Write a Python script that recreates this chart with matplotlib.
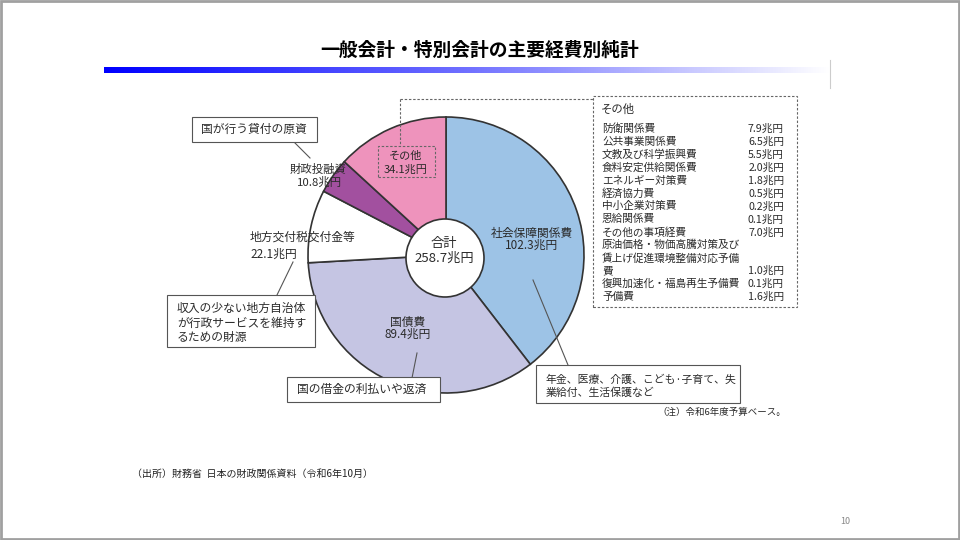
import numpy as np
import matplotlib.pyplot as plt
from matplotlib.patches import Rectangle, Circle
from matplotlib.colors import LinearSegmentedColormap

plt.rcParams['font.family'] = ['Noto Sans CJK JP', 'DejaVu Sans']

# ------------------------------------------------------------
# データ（兆円）
# ------------------------------------------------------------
categories = ['社会保障関係費', '国債費', '地方交付税交付金等', '財政投融資', 'その他']
values = [102.3, 89.4, 22.1, 10.8, 34.1]
colors = ['#9DC3E6', '#C5C5E3', '#FFFFFF', '#A2509F', '#EE93BC']

other_items = ['防衛関係費', '公共事業関係費', '文教及び科学振興費', '食料安定供給関係費',
               'エネルギー対策費', '経済協力費', '中小企業対策費', '恩給関係費',
               'その他の事項経費',
               '原油価格・物価高騰対策及び\n賃上げ促進環境整備対応予備\n費',
               '復興加速化・福島再生予備費', '予備費']
other_values = [7.9, 6.5, 5.5, 2.0, 1.8, 0.5, 0.2, 0.1, 7.0, 1.0, 0.1, 1.6]

title = '一般会計・特別会計の主要経費別純計'
source = '（出所）財務省  日本の財政関係資料（令和6年10月）'
note = '（注）令和6年度予算ベース。'

W, H = 960, 540
TXT = '#2b2b2b'
LINE = '#555555'


def Y(y):
    """ピクセル座標（上から）→ データ座標"""
    return H - y


fig = plt.figure(figsize=(9.6, 5.4), dpi=100)
ax = fig.add_axes([0, 0, 1, 1])


def txt(x, y, s, **kw):
    kw.setdefault('color', TXT)
    kw.setdefault('fontsize', 8.5)
    ax.text(x, Y(y), s, zorder=6, **kw)


def box(x0, y0, x1, y1, ls='-', ec=LINE, lw=0.8, fill=True):
    ax.add_patch(Rectangle((x0, Y(y1)), x1 - x0, y1 - y0, fill=fill,
                           fc='white', ec=ec, lw=lw, ls=ls, zorder=4))


def line(x0, y0, x1, y1, ls='-', color=LINE, lw=0.8, z=3):
    ax.plot([x0, x1], [Y(y0), Y(y1)], color=color, lw=lw, ls=ls, zorder=z)


# ------------------------------------------------------------
# 円グラフ
# ------------------------------------------------------------
cx, cy, r = 446, 255, 138
ax.pie(values, colors=colors, startangle=90, counterclock=False,
       center=(cx, Y(cy)), radius=r,
       wedgeprops=dict(edgecolor='#333333', linewidth=1.2))
ax.add_patch(Circle((445, Y(258)), 39, fc='white', ec='#333333', lw=1.2, zorder=5))

total = sum(values)
txt(444, 243, '合計', ha='center', va='center', fontsize=9.5)
txt(444, 258, f'{total:.1f}兆円', ha='center', va='center', fontsize=9.5)

# 社会保障関係費
txt(532, 233, categories[0], ha='center', va='center')
txt(532, 245, f'{values[0]}兆円', ha='center', va='center')
line(533, 280, 568, 365)
box(536, 365, 740, 403)
txt(546, 380, '年金、医療、介護、こども·子育て、失', va='center', fontsize=7.8)
txt(546, 393, '業給付、生活保護など', va='center', fontsize=7.8)

# 国債費
txt(408, 322, categories[1], ha='center', va='center')
txt(408, 334, f'{values[1]}兆円', ha='center', va='center')
line(417, 353, 412, 378)
box(287, 377, 440, 402)
txt(297, 389, '国の借金の利払いや返済', va='center')

# 地方交付税交付金等
txt(250, 237, categories[2], va='center')
txt(250, 254, f'{values[2]}兆円', va='center')
line(293, 262, 277, 295)
box(167, 295, 315, 347)
txt(177, 308, '収入の少ない地方自治体', va='center')
txt(177, 323, 'が行政サービスを維持す', va='center')
txt(177, 337, 'るための財源', va='center')

# 財政投融資
box(192, 117, 317, 142)
txt(201, 129, '国が行う貸付の原資', va='center')
line(295, 143, 310, 158)
txt(318, 169, categories[3], ha='center', va='center', fontsize=8.2)
txt(320, 182, f'{values[3]}兆円', ha='center', va='center', fontsize=8.2)

# その他
dash = (0, (2.2, 1.6))
box(378, 146, 435, 177, ls=dash, ec='#666666', fill=False)
txt(406, 156, categories[4], ha='center', va='center', fontsize=8)
txt(406, 170, f'{values[4]}兆円', ha='center', va='center', fontsize=8)
line(400, 99, 400, 146, ls=dash, color='#666666')
line(400, 99, 593, 99, ls=dash, color='#666666')

# その他の内訳
box(593, 96, 797, 307, ls=dash, ec='#666666', fill=False)
fs_list = 7.7
txt(601, 109, 'その他', va='center', fontsize=8.2)
row = 0
step = 12.9
for name, v in zip(other_items, other_values):
    parts = name.split('\n')
    for p in parts:
        txt(602, 129 + row * step, p, va='center', fontsize=fs_list)
        row += 1
    txt(784, 129 + (row - 1) * step, f'{v:.1f}兆円', ha='right', va='center',
        fontsize=fs_list)

txt(657, 412, note, va='center', fontsize=6.8)

# ------------------------------------------------------------
# スライド装飾
# ------------------------------------------------------------
txt(480, 50, title, ha='center', va='center', fontsize=13.5,
    fontweight='bold', color='black')

grad = np.linspace(0, 1, 256).reshape(1, -1)
cmap = LinearSegmentedColormap.from_list('bw', ['#0000FF', '#7070FF', '#FFFFFF'])
ax.imshow(grad, cmap=cmap, extent=[104, 830, Y(73), Y(67)], aspect='auto', zorder=2)
line(830, 60, 830, 88, color='#cccccc', lw=0.8)

txt(132, 474, source, va='center', fontsize=7.2, color='#222222')
txt(840, 522, '10', va='center', fontsize=6.5, color='#888888')

ax.add_patch(Rectangle((1, 1.5), W - 2, H - 2.5, fill=False, ec='#a0a0a0',
                       lw=2.0, zorder=10))

ax.set_xlim(0, W)
ax.set_ylim(0, H)
ax.set_aspect('auto')
ax.axis('off')

fig.savefig('out.png', dpi=100)
